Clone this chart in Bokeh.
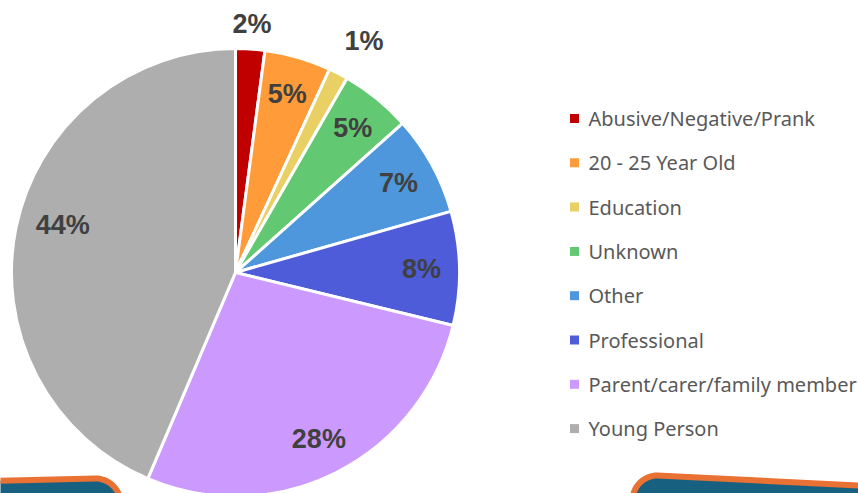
import numpy as np
from bokeh.plotting import figure
from bokeh.models import Range1d, ColumnDataSource
from bokeh.core.properties import value
from bokeh.embed import file_html
from bokeh.resources import INLINE

# ---- data ----
categories = ["Abusive/Negative/Prank", "20 - 25 Year Old", "Education", "Unknown",
              "Other", "Professional", "Parent/carer/family member", "Young Person"]
shares = [2.1, 4.8, 1.4, 5.1, 7.2, 8.2, 27.6, 43.6]
colors = ["#C00000", "#FF9B38", "#E8D064", "#63C872", "#4E97DC", "#4E5CD9", "#CC99FF", "#AEAEAE"]

W, H = 858, 493
p = figure(width=W, height=H, output_backend="svg", toolbar_location=None,
           x_range=Range1d(0, W), y_range=Range1d(0, H), min_border=0)
p.axis.visible = False
p.grid.visible = False
p.outline_line_color = None
p.background_fill_color = "white"

def wy(Y):  # window pixel row -> data y
    return H - Y

# ---- decorative boxes at bottom ----
def rounded_box(corner_c, r, t0, t1, pts_before, pts_after):
    a = np.linspace(t0, t1, 20)
    xs = [q[0] for q in pts_before] + list(corner_c[0] + r * np.cos(a)) + [q[0] for q in pts_after]
    ys = [q[1] for q in pts_before] + list(corner_c[1] + r * np.sin(a)) + [q[1] for q in pts_after]
    return xs, ys

# left box (corner at top-right)
lx, ly = rounded_box((95, wy(503)), 25, np.pi / 2, 0,
                     [(-30, wy(533)), (-30, wy(481))], [(117, wy(533))])
p.patch(lx, ly, fill_color="#17607F", line_color="#E87133", line_width=6)
# right box (corner at top-left)
rx, ry = rounded_box((657, wy(500)), 25, np.pi, np.pi / 2,
                     [(630, wy(533))], [(880, wy(486)), (880, wy(533))])
p.patch(rx, ry, fill_color="#17607F", line_color="#E87133", line_width=6)

# ---- pie ----
cx, cy, R = 235, wy(272), 224
fr = np.array(shares) / sum(shares)
cum = np.concatenate([[0], np.cumsum(fr)]) * 2 * np.pi  # clockwise from top
start = np.pi / 2 - cum[1:]
end = np.pi / 2 - cum[:-1]
src = ColumnDataSource(dict(start=start, end=end, color=colors, cat=categories))
p.wedge(x=cx, y=cy, radius=R, start_angle="start", end_angle="end", fill_color="color",
        line_color="white", line_width=3, source=src)

# ---- data labels ----
mid = np.pi / 2 - (cum[1:] + cum[:-1]) / 2
radial = {"Abusive/Negative/Prank": 1.11, "Education": 1.18, "Young Person": 0.80}
nudge = {"Young Person": -0.07, "Education": -0.03}  # angular tweak (rad)
lab_x, lab_y, lab_t = [], [], []
for c, m, s in zip(categories, mid, shares):
    f = radial.get(c, 0.83)
    a = m + nudge.get(c, 0.0)
    lab_x.append(cx + f * R * np.cos(a))
    lab_y.append(cy + f * R * np.sin(a))
    lab_t.append(f"{round(s)}%")
p.text(x=lab_x, y=lab_y, text=lab_t, text_align="center", text_baseline="middle",
       text_font=value("Liberation Sans"), text_font_style="bold",
       text_font_size="27px", text_color="#404040")

# ---- legend ----
row0, step = wy(118), 44.3
ly_rows = [row0 - i * step for i in range(len(categories))]
p.scatter(x=[574] * len(categories), y=ly_rows, marker="square", size=9,
          fill_color=colors, line_color=None)
p.text(x=[588] * len(categories), y=ly_rows, text=categories, text_align="left",
       text_baseline="middle", text_font=value("Noto Sans"), text_font_size="20px",
       text_color="#595959")

open("out.html", "w").write(file_html(p, INLINE))
